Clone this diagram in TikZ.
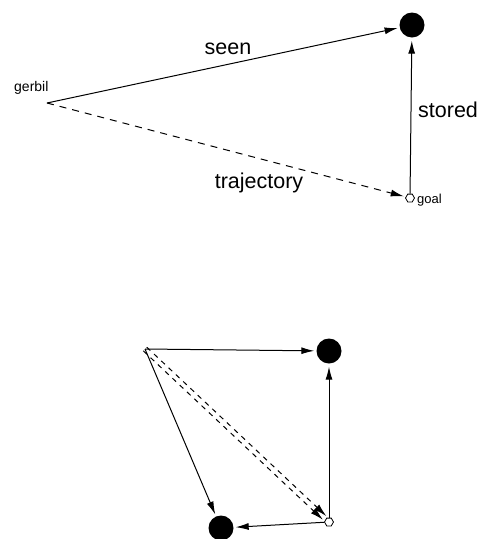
\documentclass[tikz,border=0pt]{standalone}
\usepackage{fontspec}
\setmainfont{Liberation Sans}
\usetikzlibrary{arrows.meta,shapes.geometric,calc}
\begin{document}
\begin{tikzpicture}[x=1pt,y=-1pt,
  food/.style={circle,fill=black,inner sep=0pt,minimum size=25pt},
  goalmark/.style={regular polygon,regular polygon sides=6,draw,line width=0.8pt,inner sep=0pt,minimum size=9pt},
  conn/.style={line width=1pt,-{Latex[length=13pt,width=7pt]},shorten >=2pt},
  dashconn/.style={conn,dash pattern=on 7pt off 6pt},
  biglabel/.style={font=\fontsize{21.5}{24}\selectfont,inner sep=0pt},
  smalllabel/.style={font=\fontsize{13}{15}\selectfont,inner sep=0pt}]
\useasboundingbox (0,0) rectangle (482,539);
% top diagram
\coordinate (g1) at (47,103);
\node[food] (f1) at (412,25) {};
\node[goalmark] (h1) at (410,198) {};
\draw[conn] (g1) -- (f1);
\draw[conn,shorten >=3pt] (h1) -- (f1);
\draw[dashconn] (g1) -- (h1);
\node[biglabel,anchor=base] (seen) at (228,54) {seen};
\node[biglabel,anchor=base west] (stored) at (418,117) {stored};
\node[biglabel,anchor=base] (traj) at (259,188) {trajectory};
\node[smalllabel,font=\fontsize{14}{16}\selectfont,anchor=base west] (gerbil) at (14,91) {gerbil};
\node[smalllabel,anchor=base west] (goal) at (417,203) {goal};
% bottom diagram
\coordinate (g2) at (145,349);
\node[food] (f2) at (329,351) {};
\node[goalmark] (h2) at (329,522) {};
\node[food] (f3) at (221,528) {};
\draw[conn] (g2) -- (f2);
\draw[conn,shorten >=3pt] (h2) -- (f2);
\draw[conn] (g2) -- (f3);
\draw[conn] (h2) -- (f3);
\coordinate (a1) at ($(g2)!2.5pt!90:(h2)$);
\coordinate (b1) at ($(h2)!2.5pt!-90:(g2)$);
\coordinate (a2) at ($(g2)!2.5pt!-90:(h2)$);
\coordinate (b2) at ($(h2)!2.5pt!90:(g2)$);
\draw[dashconn,dash pattern=on 5pt off 5pt,shorten >=6pt] (a1) -- (b1);
\draw[dashconn,dash pattern=on 5pt off 5pt,shorten >=6pt] (a2) -- (b2);
\end{tikzpicture}
\end{document}
